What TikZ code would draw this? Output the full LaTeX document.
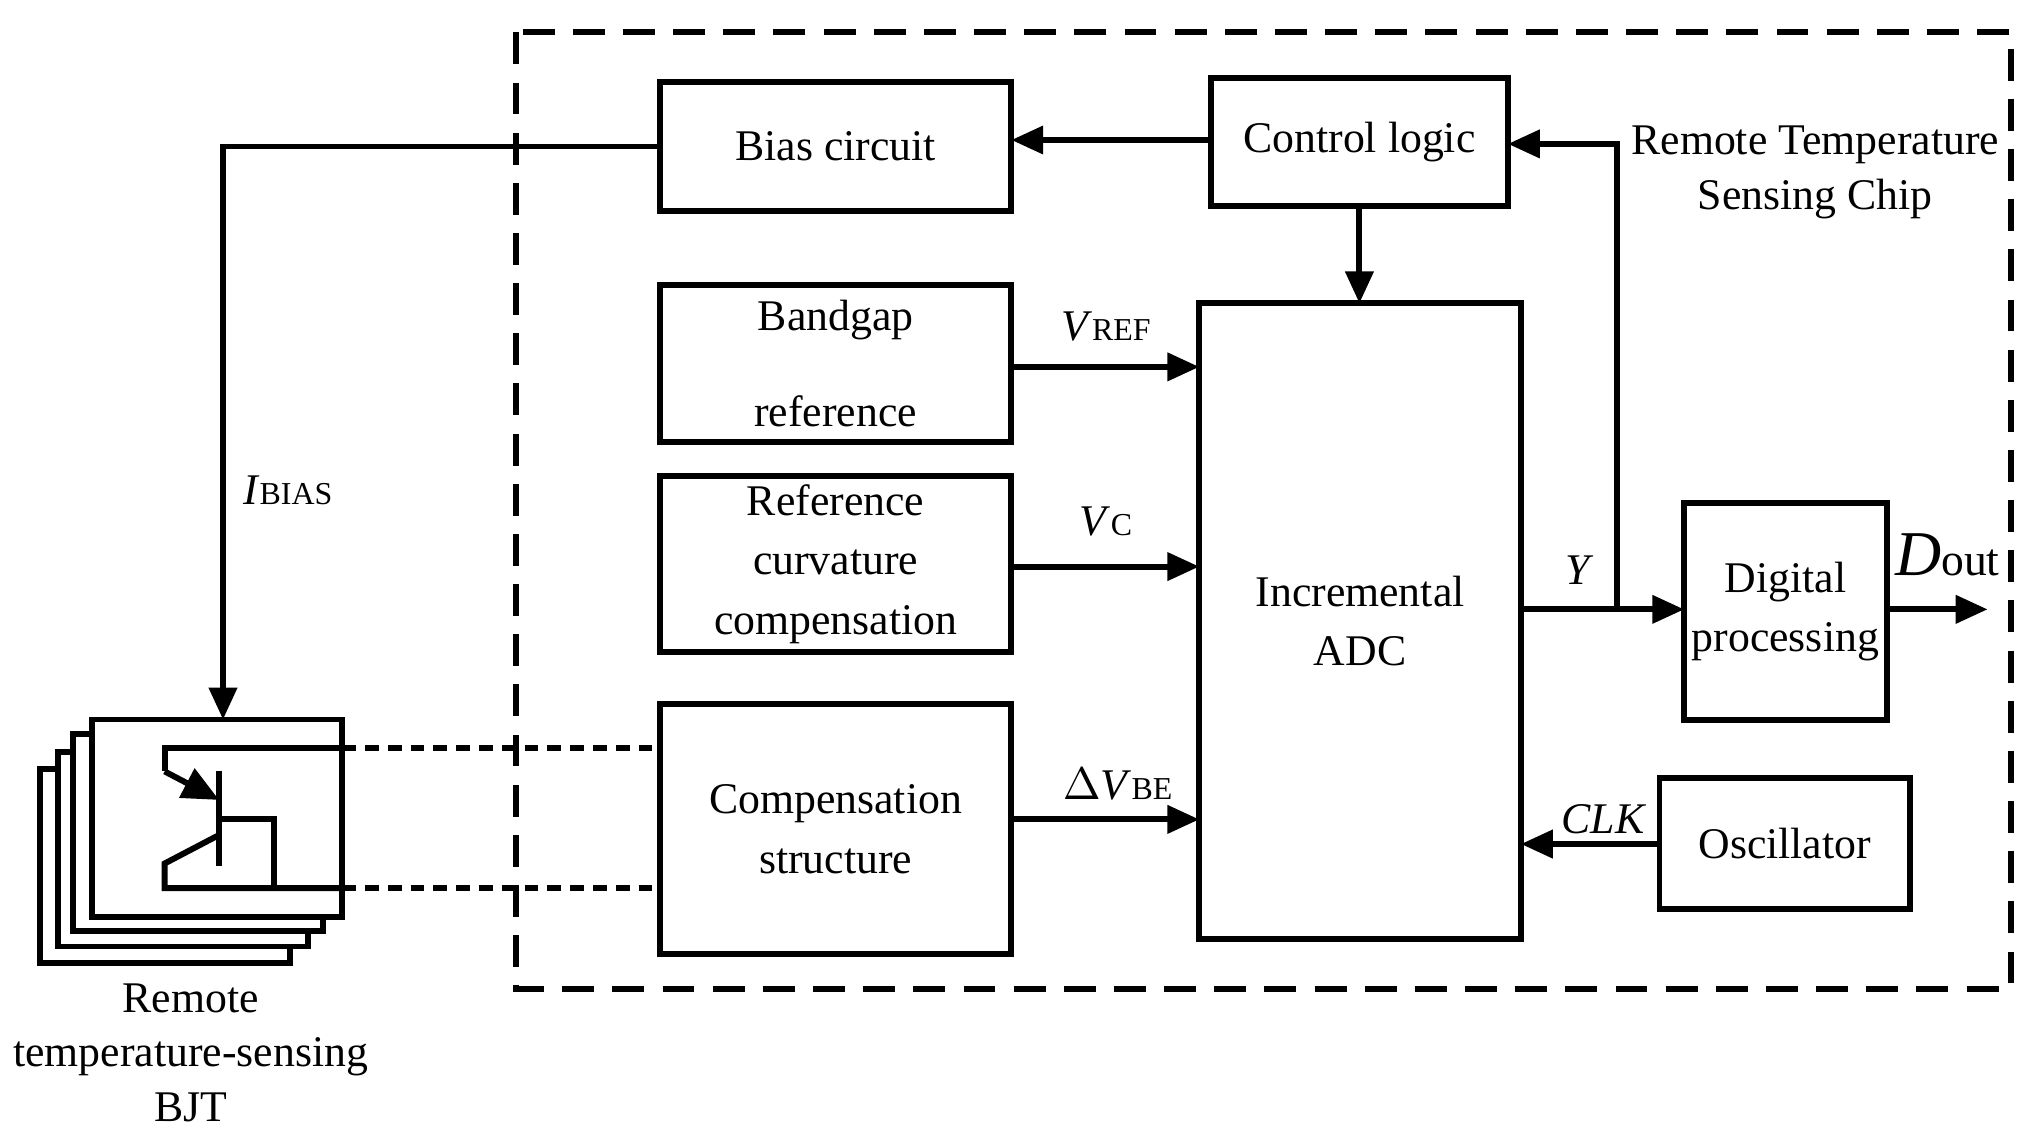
\documentclass[tikz,border=0pt]{standalone}
\usepackage{fontspec}
\setmainfont{Liberation Serif}
\usetikzlibrary{arrows.meta}
\begin{document}
\begin{tikzpicture}[x=0.01cm,y=-0.01cm,
  blk/.style={draw,line width=1.3pt,align=center,font=\fontsize{9.6}{13}\selectfont},
  ln/.style={line width=1.3pt},
  ar/.style={ln,-{Triangle[length=7pt,width=6pt]}},
  lbl/.style={font=\fontsize{9.6}{12}\selectfont},
  every node/.style={inner sep=0pt}]
\useasboundingbox (0,0) rectangle (1568,877);
\draw[ln,dash pattern=on 7pt off 4pt] (398,25) rectangle (1551,763);
\node[blk,minimum width=2.71cm,minimum height=1.00cm] (bias) at (644.5,113) {Bias circuit};
\node[blk,minimum width=2.29cm,minimum height=0.99cm] (ctl) at (1048.5,109.5) {Control logic};
\node[blk,minimum width=2.71cm,minimum height=1.21cm] (bg) at (644.5,280.5) {Bandgap\\[8pt]reference};
\node[blk,minimum width=2.71cm,minimum height=1.36cm] (rcc) at (644.5,435) {Reference\\curvature\\compensation};
\node[blk,minimum width=2.71cm,minimum height=1.93cm] (cs) at (644.5,639.5) {Compensation\\structure};
\node[blk,minimum width=2.48cm,minimum height=4.90cm] (adc) at (1049,479) {Incremental\\ADC};
\node[blk,minimum width=1.56cm,minimum height=1.67cm] (dp) at (1377,471.5) {Digital\\processing};
\node[blk,minimum width=1.93cm,minimum height=1.01cm] (osc) at (1376.5,650.5) {Oscillator};
\node[lbl,align=center] (rt) at (1400,133) {Remote Temperature\\Sensing Chip};
% BJT stack
\draw[ln,fill=white] (31,593) rectangle (224,743);
\draw[ln,fill=white] (45,580) rectangle (237.5,730);
\draw[ln,fill=white] (56,566) rectangle (249,718);
\node[draw,line width=1.3pt,fill=white,minimum width=1.93cm,minimum height=1.52cm] (bjt) at (167.5,631) {};
\node[lbl,align=center] (bjtl) at (147,812) {Remote\\temperature-sensing\\BJT};
\coordinate (e1) at (264,577);
\coordinate (e2) at (264,685);
\draw[ln] (e1) -- (127,577) -- (127,595);
\draw[ln,-{Triangle[length=8pt,width=7pt]}] (127,595) -- (169,617);
\draw[ln] (169,595) -- (169,668);
\draw[ln] (169,632) -- (211,632) -- (211,685);
\draw[ln] (169,644) -- (127,666) -- (127,685) -- (e2);
\draw[ln,dash pattern=on 3pt off 2pt] (e1) -- (509,577);
\draw[ln,dash pattern=on 3pt off 2pt] (e2) -- (509,685);
% connectors
\coordinate (bt) at (172,555);
\draw[ar] (bias.west) -- (172,113) -- (bt);
\node[lbl] (ib) at (222,378) {\textit{I}\fontsize{7}{8}\selectfont BIAS};
\draw[ar] (934,108) -- (780,108);
\draw[ar] (ctl.south) -- (1048.5,234);
\draw[ar] (780,283) -- (925,283);
\node[lbl] (vref) at (853,252) {\textit{V}\fontsize{7}{8}\selectfont REF};
\draw[ar] (780,437) -- (925,437);
\node[lbl] (vc) at (853,402) {\textit{V}\fontsize{7}{8}\selectfont C};
\draw[ar] (780,632) -- (925,632);
\node[lbl] (dvbe) at (862,605) {$\Delta$\textit{V}\fontsize{7}{8}\selectfont BE};
\coordinate (br) at (1247,470);
\draw[ar] (1173,470) -- (1299,470);
\draw[ar] (br) -- (1247,111) -- (1163,111);
\node[lbl] (y) at (1218,440) {\textit{Y}};
\draw[ar] (1280,651) -- (1173,651);
\node[lbl] (clk) at (1237,632) {\textit{CLK}};
\coordinate (dout) at (1533,470);
\draw[ar] (1455,470) -- (dout);
\node[font=\fontsize{14}{16}\selectfont] (dl) at (1502,428) {\textit{D}\fontsize{10}{12}\selectfont out};
\end{tikzpicture}
\end{document}
